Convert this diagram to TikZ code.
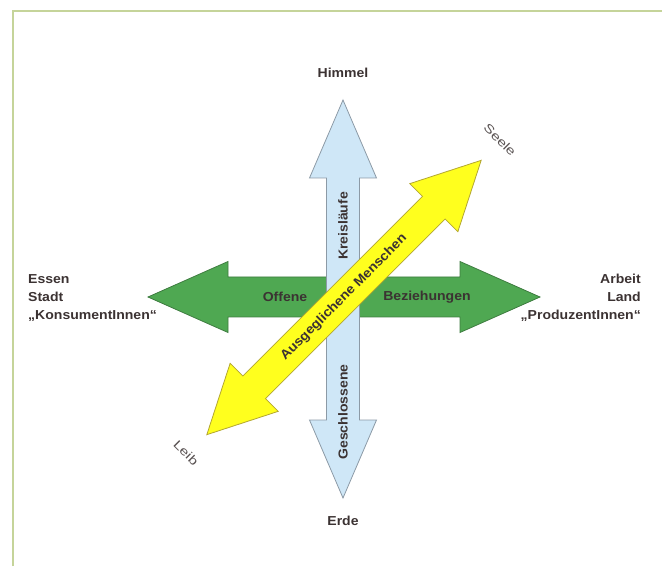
\documentclass[tikz,border=0pt]{standalone}
\usepackage{fontspec}
\setmainfont{Liberation Sans}
\newfontfamily\wide[FakeStretch=1.08]{Liberation Sans}
\newfontfamily\wider[FakeStretch=1.3]{Liberation Sans}
\usepackage{xcolor}
\usetikzlibrary{positioning}
\definecolor{framecol}{HTML}{C5D49A}
\definecolor{skyblue}{HTML}{CFE7F7}
\definecolor{skyline}{HTML}{8C9AA6}
\definecolor{grassgreen}{HTML}{4FA852}
\definecolor{grassline}{HTML}{3E7C40}
\definecolor{sunyellow}{HTML}{FFFF1E}
\definecolor{sunline}{HTML}{B3A632}
\definecolor{inkcol}{HTML}{3B3232}
\tikzset{
    lbl/.style={text=inkcol, font=\wide\fontsize{13}{15.5}\selectfont\bfseries, inner sep=1pt},
    thin lbl/.style={text=inkcol!85, font=\wider\fontsize{12}{14}\selectfont, inner sep=1pt}
}

\begin{document}
\begin{tikzpicture}[x=1pt, y=1pt]
    \useasboundingbox (0,0) rectangle (662,566);
    % frame
    \draw[framecol, line width=2] (13,0) -- (13,555) -- (662,555);

    % Offene Beziehungen
    \begin{scope}[shift={(344,269)}]
        \draw[grassline, fill=grassgreen, line width=0.8]
            (-196,0) -- (-116,35.5) -- (-116,20) -- (116,20) -- (116,35.5) -- (196,0)
            -- (116,-35.5) -- (116,-20) -- (-116,-20) -- (-116,-35.5) -- cycle;
        \node[lbl] (offene) at (-59,0) {Offene};
        \node[lbl] (beziehungen) at (83,0) {Beziehungen};
    \end{scope}

    % Geschlossene Kreislaeufe
    \begin{scope}[shift={(343,267)}]
        \draw[skyline, fill=skyblue, line width=0.8]
            (0,-199) -- (33.5,-121) -- (16.5,-121) -- (16.5,121) -- (33.5,121) -- (0,199)
            -- (-33.5,121) -- (-16.5,121) -- (-16.5,-121) -- (-33.5,-121) -- cycle;
        \node[lbl, rotate=90] (kreislaeufe) at (0,73) {Kreisläufe};
        \node[lbl, rotate=90] (geschlossene) at (0,-113) {Geschlossene};
    \end{scope}

    % Ausgeglichene Menschen
    \begin{scope}[shift={(344,268.5)}, rotate=45]
        \draw[sunline, fill=sunyellow, line width=0.8]
            (-194,0) -- (-127,34) -- (-127,16) -- (127,16) -- (127,34) -- (194,0)
            -- (127,-34) -- (127,-16) -- (-127,-16) -- (-127,-34) -- cycle;
        \node[lbl, rotate=45] (menschen) at (0,0) {Ausgeglichene Menschen};
    \end{scope}

    % Pole
    \node[lbl] (himmel) at (343,493) {Himmel};
    \node[lbl] (erde) at (343,45) {Erde};
    \node[thin lbl, rotate=-45] (seele) at (500,426) {Seele};
    \node[thin lbl, rotate=-45] (leib) at (186,113) {Leib};
    \node[lbl, align=left, anchor=west, font=\wide\fontsize{13}{18}\selectfont\bfseries] (links) at (27,268) {Essen\\Stadt\\„KonsumentInnen“};
    \node[lbl, align=right, anchor=east, font=\wide\fontsize{13}{18}\selectfont\bfseries] (rechts) at (642,268) {Arbeit\\Land\\„ProduzentInnen“};
\end{tikzpicture}
\end{document}
